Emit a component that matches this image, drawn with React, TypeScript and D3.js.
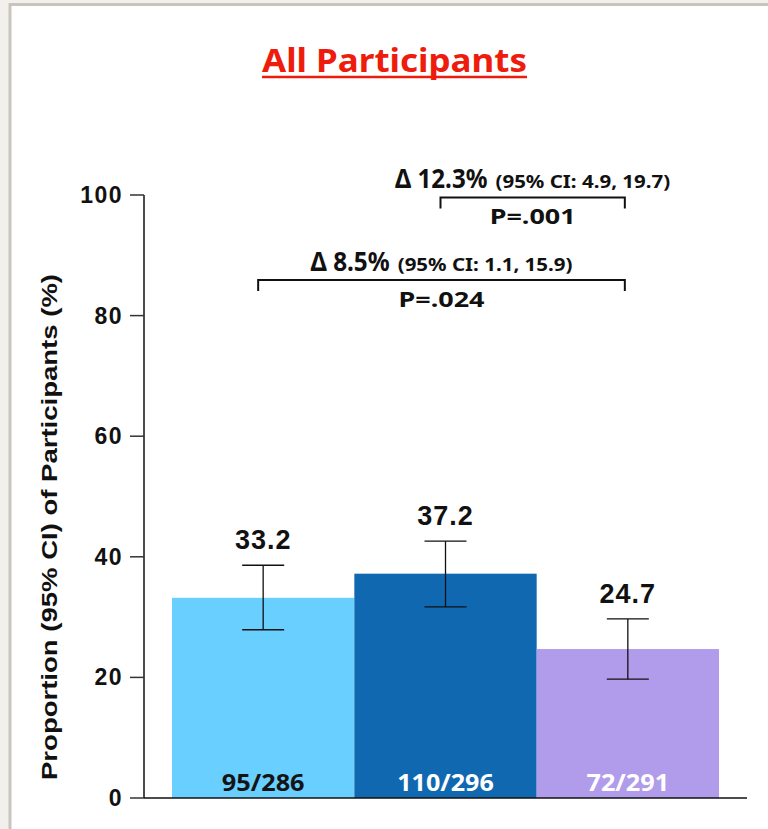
import React from 'react';
import * as d3 from 'd3';

// Chart data
const groups = ['Arm 1', 'Arm 2', 'Arm 3'];
const proportions = [33.2, 37.2, 24.7];
const ciLower = [27.9, 31.7, 19.7];
const ciUpper = [38.6, 42.6, 29.7];
const counts = ['95/286', '110/296', '72/291'];
const barColors = ['#69cfff', '#1068b1', '#b19beb'];
const countColors = ['#141414', '#ffffff', '#ffffff'];
const yTicks = [0, 20, 40, 60, 80, 100];

// Pairwise comparisons drawn as brackets between bar centres
const compFrom = [1, 0];
const compTo = [2, 2];
const compLevel = [99.6, 85.9];
const compDelta = ['\u0394 12.3%', '\u0394 8.5%'];
const compCI = ['(95% CI: 4.9, 19.7)', '(95% CI: 1.1, 15.9)'];
const compP = ['P=.001', 'P=.024'];

const W = 768;
const H = 829;
const m = { left: 144, right: 747, top: 195, bottom: 798 };
const barStart = 172;
const barEnd = 719;

const narrow = "'Noto Sans', 'Open Sans', sans-serif";
const arial = "'Liberation Sans', Arial, sans-serif";

export default function App() {
  const y = d3.scaleLinear().domain([0, 100]).range([m.bottom, m.top]);
  const x = d3.scaleBand<string>().domain(groups).range([barStart, barEnd]).padding(0);
  const bw = x.bandwidth();
  const cx = (i: number) => (x(groups[i]) as number) + bw / 2;
  const capHalf = 21;

  return (
    <svg
      width={W}
      height={H}
      style={{ position: 'absolute', left: 0, top: 0, display: 'block' }}
    >
      {/* frame */}
      <rect x={0} y={0} width={W} height={H} fill="#f1f0ed" />
      <rect x={10} y={4.5} width={W + 10} height={H + 10} fill="#ffffff" stroke="#c9c5be" strokeWidth={3} />

      {/* title */}
      <text
        x={394.5}
        y={72}
        textAnchor="middle"
        fontFamily={narrow}
        fontWeight="bold"
        fontSize={33}
        fill="#ee1c0c"
        textLength={265}
        lengthAdjust="spacingAndGlyphs"
      >
        All Participants
      </text>
      <line x1={262} x2={527} y1={77} y2={77} stroke="#ee1c0c" strokeWidth={2.5} />

      {/* bars */}
      {groups.map((g, i) => (
        <rect
          key={g}
          x={x(g) as number}
          y={y(proportions[i])}
          width={bw}
          height={y(0) - y(proportions[i])}
          fill={barColors[i]}
        />
      ))}

      {/* error bars */}
      {groups.map((g, i) => (
        <g key={'e' + g} stroke="#111" strokeWidth={1.3}>
          <line x1={cx(i)} x2={cx(i)} y1={y(ciUpper[i])} y2={y(ciLower[i])} />
          <line x1={cx(i) - capHalf} x2={cx(i) + capHalf} y1={y(ciUpper[i])} y2={y(ciUpper[i])} />
          <line x1={cx(i) - capHalf} x2={cx(i) + capHalf} y1={y(ciLower[i])} y2={y(ciLower[i])} />
        </g>
      ))}

      {/* value labels */}
      {groups.map((g, i) => (
        <text
          key={'v' + g}
          x={cx(i)}
          y={y(ciUpper[i]) - 16}
          textAnchor="middle"
          fontFamily={arial}
          fontWeight="bold"
          fontSize={27}
          letterSpacing={1}
          fill="#111"
        >
          {proportions[i].toFixed(1)}
        </text>
      ))}

      {/* counts inside bars */}
      {groups.map((g, i) => (
        <text
          key={'c' + g}
          x={cx(i)}
          y={y(0) - 7}
          textAnchor="middle"
          fontFamily={narrow}
          fontWeight="bold"
          fontSize={23}
          fill={countColors[i]}
          textLength={counts[i].length * 13.8}
          lengthAdjust="spacingAndGlyphs"
        >
          {counts[i]}
        </text>
      ))}

      {/* y axis */}
      <line x1={m.left} x2={m.left} y1={y(100)} y2={y(0)} stroke="#111" strokeWidth={1.5} />
      {yTicks.map((t) => (
        <g key={'t' + t}>
          <line x1={m.left - 14} x2={m.left} y1={y(t)} y2={y(t)} stroke="#333" strokeWidth={1.5} />
          <text
            x={m.left - 21}
            y={y(t) + 8}
            textAnchor="end"
            fontFamily={arial}
            fontWeight="bold"
            fontSize={23}
            letterSpacing={1.5}
            fill="#111"
          >
            {t}
          </text>
        </g>
      ))}

      {/* x axis */}
      <line x1={m.left} x2={m.right} y1={y(0)} y2={y(0)} stroke="#111" strokeWidth={1.5} />

      {/* y label */}
      <text
        transform={`translate(57, 527) rotate(-90)`}
        textAnchor="middle"
        fontFamily={arial}
        fontWeight="bold"
        fontSize={22}
        fill="#111"
        textLength={506}
        lengthAdjust="spacingAndGlyphs"
      >
        Proportion (95% CI) of Participants (%)
      </text>

      {/* comparison brackets */}
      {compFrom.map((f, k) => {
        const x1 = cx(f) - 5;
        const x2 = cx(compTo[k]) - 3;
        const by = y(compLevel[k]);
        const mid = (x1 + x2) / 2;
        const deltaW = compDelta[k].length * 13.2;
        const ciW = compCI[k].length * 9.2;
        const total = deltaW + 8 + ciW;
        const start = mid - total / 2;
        return (
          <g key={'b' + k}>
            <path
              d={`M${x1},${by + 11}V${by}H${x2}V${by + 11}`}
              fill="none"
              stroke="#111"
              strokeWidth={2}
            />
            <text
              x={start}
              y={by - 9}
              fontFamily={narrow}
              fontWeight="bold"
              fontSize={26}
              fill="#111"
              textLength={deltaW}
              lengthAdjust="spacingAndGlyphs"
            >
              {compDelta[k]}
            </text>
            <text
              x={start + deltaW + 8}
              y={by - 9}
              fontFamily={narrow}
              fontWeight="bold"
              fontSize={17}
              fill="#111"
              textLength={ciW}
              lengthAdjust="spacingAndGlyphs"
            >
              {compCI[k]}
            </text>
            <text
              x={mid}
              y={by + 27}
              textAnchor="middle"
              fontFamily={narrow}
              fontWeight="bold"
              fontSize={22}
              fill="#111"
              textLength={86}
              lengthAdjust="spacingAndGlyphs"
            >
              {compP[k]}
            </text>
          </g>
        );
      })}
    </svg>
  );
}
